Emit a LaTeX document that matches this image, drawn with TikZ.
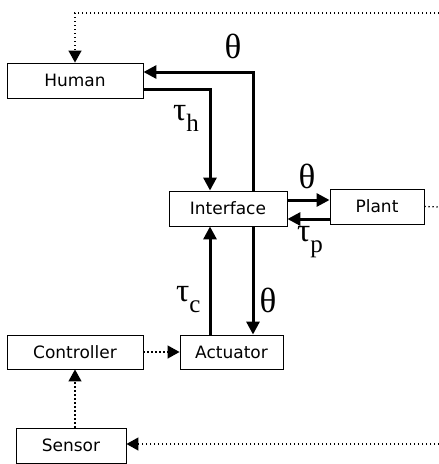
\documentclass[tikz,border=0pt]{standalone}
\usepackage{fontspec}
\setmainfont{DejaVu Sans}
\newfontfamily\gk{Liberation Serif}
\newcommand\tsb[2]{{\fontsize{33}{35}\selectfont\gk #1}\raisebox{-11pt}{\fontsize{25}{27}\selectfont\gk #2}}
\usetikzlibrary{arrows.meta}
\begin{document}
\begin{tikzpicture}[x=1pt,y=-1pt,
  blk/.style={draw,line width=0.9pt,rectangle,inner sep=0pt,font=\fontsize{17}{20}\selectfont},
  thk/.style={line width=3pt,-{Triangle[length=13pt,width=13pt]}},
  dot/.style={line width=1.3pt,dash pattern=on 1.3pt off 2.7pt},
  dotarr/.style={dot,-{Triangle[length=12pt,width=13pt]}},
  lbl/.style={font=\fontsize{35}{38}\selectfont\gk,inner sep=0pt}]
\useasboundingbox (0,0) rectangle (439,464);
\node[blk,minimum width=136pt,minimum height=35pt] (human) at (75,80.5) {Human};
\node[blk,minimum width=118pt,minimum height=35pt] (iface) at (228,208.5) {Interface};
\node[blk,minimum width=94pt,minimum height=35pt] (plant) at (377,206.5) {Plant};
\node[blk,minimum width=136pt,minimum height=34pt] (ctrl) at (75,352) {Controller};
\node[blk,minimum width=103pt,minimum height=34pt] (act) at (231.5,352) {Actuator};
\node[blk,minimum width=110pt,minimum height=35pt] (sens) at (71,445.5) {Sensor};
% coordinates
\coordinate (topR) at (439,13);
\coordinate (tj) at (253,72);
\coordinate (hj) at (210,89);
\coordinate (plR) at (439,207);
\coordinate (seR) at (439,444);
% dotted
\draw[dotarr] (topR) -| (human.north);
\draw[dot] (plant.east) -- (plR);
\draw[dotarr] (ctrl.east) -- (act.west);
\draw[dotarr] (ctrl.south |- sens.north) -- (ctrl.south);
\draw[dotarr] (seR) -- (sens.east |- seR);
% thick
\draw[thk] (iface.north -| tj) |- (human.east |- tj);
\draw[thk] (human.east |- hj) -| (iface.north -| hj);
\draw[thk] (iface.south -| tj) -- (act.north -| tj);
\draw[thk] (act.north -| hj) -- (iface.south -| hj);
\draw[thk] (iface.east |- 0,200) -- (plant.west |- 0,200);
\draw[thk] (plant.west |- 0,219) -- (iface.east |- 0,219);
% labels
\node[lbl] (l1) at (233,46) {θ};
\node[inner sep=0pt,anchor=base west] (l2) at (173,120) {\tsb{τ}{h}};
\node[lbl] (l3) at (307,176) {θ};
\node[inner sep=0pt,anchor=base west] (l4) at (297,241) {\tsb{τ}{p}};
\node[inner sep=0pt,anchor=base west] (l5) at (176,301) {\tsb{τ}{c}};
\node[lbl] (l6) at (268,300) {θ};
\end{tikzpicture}
\end{document}
